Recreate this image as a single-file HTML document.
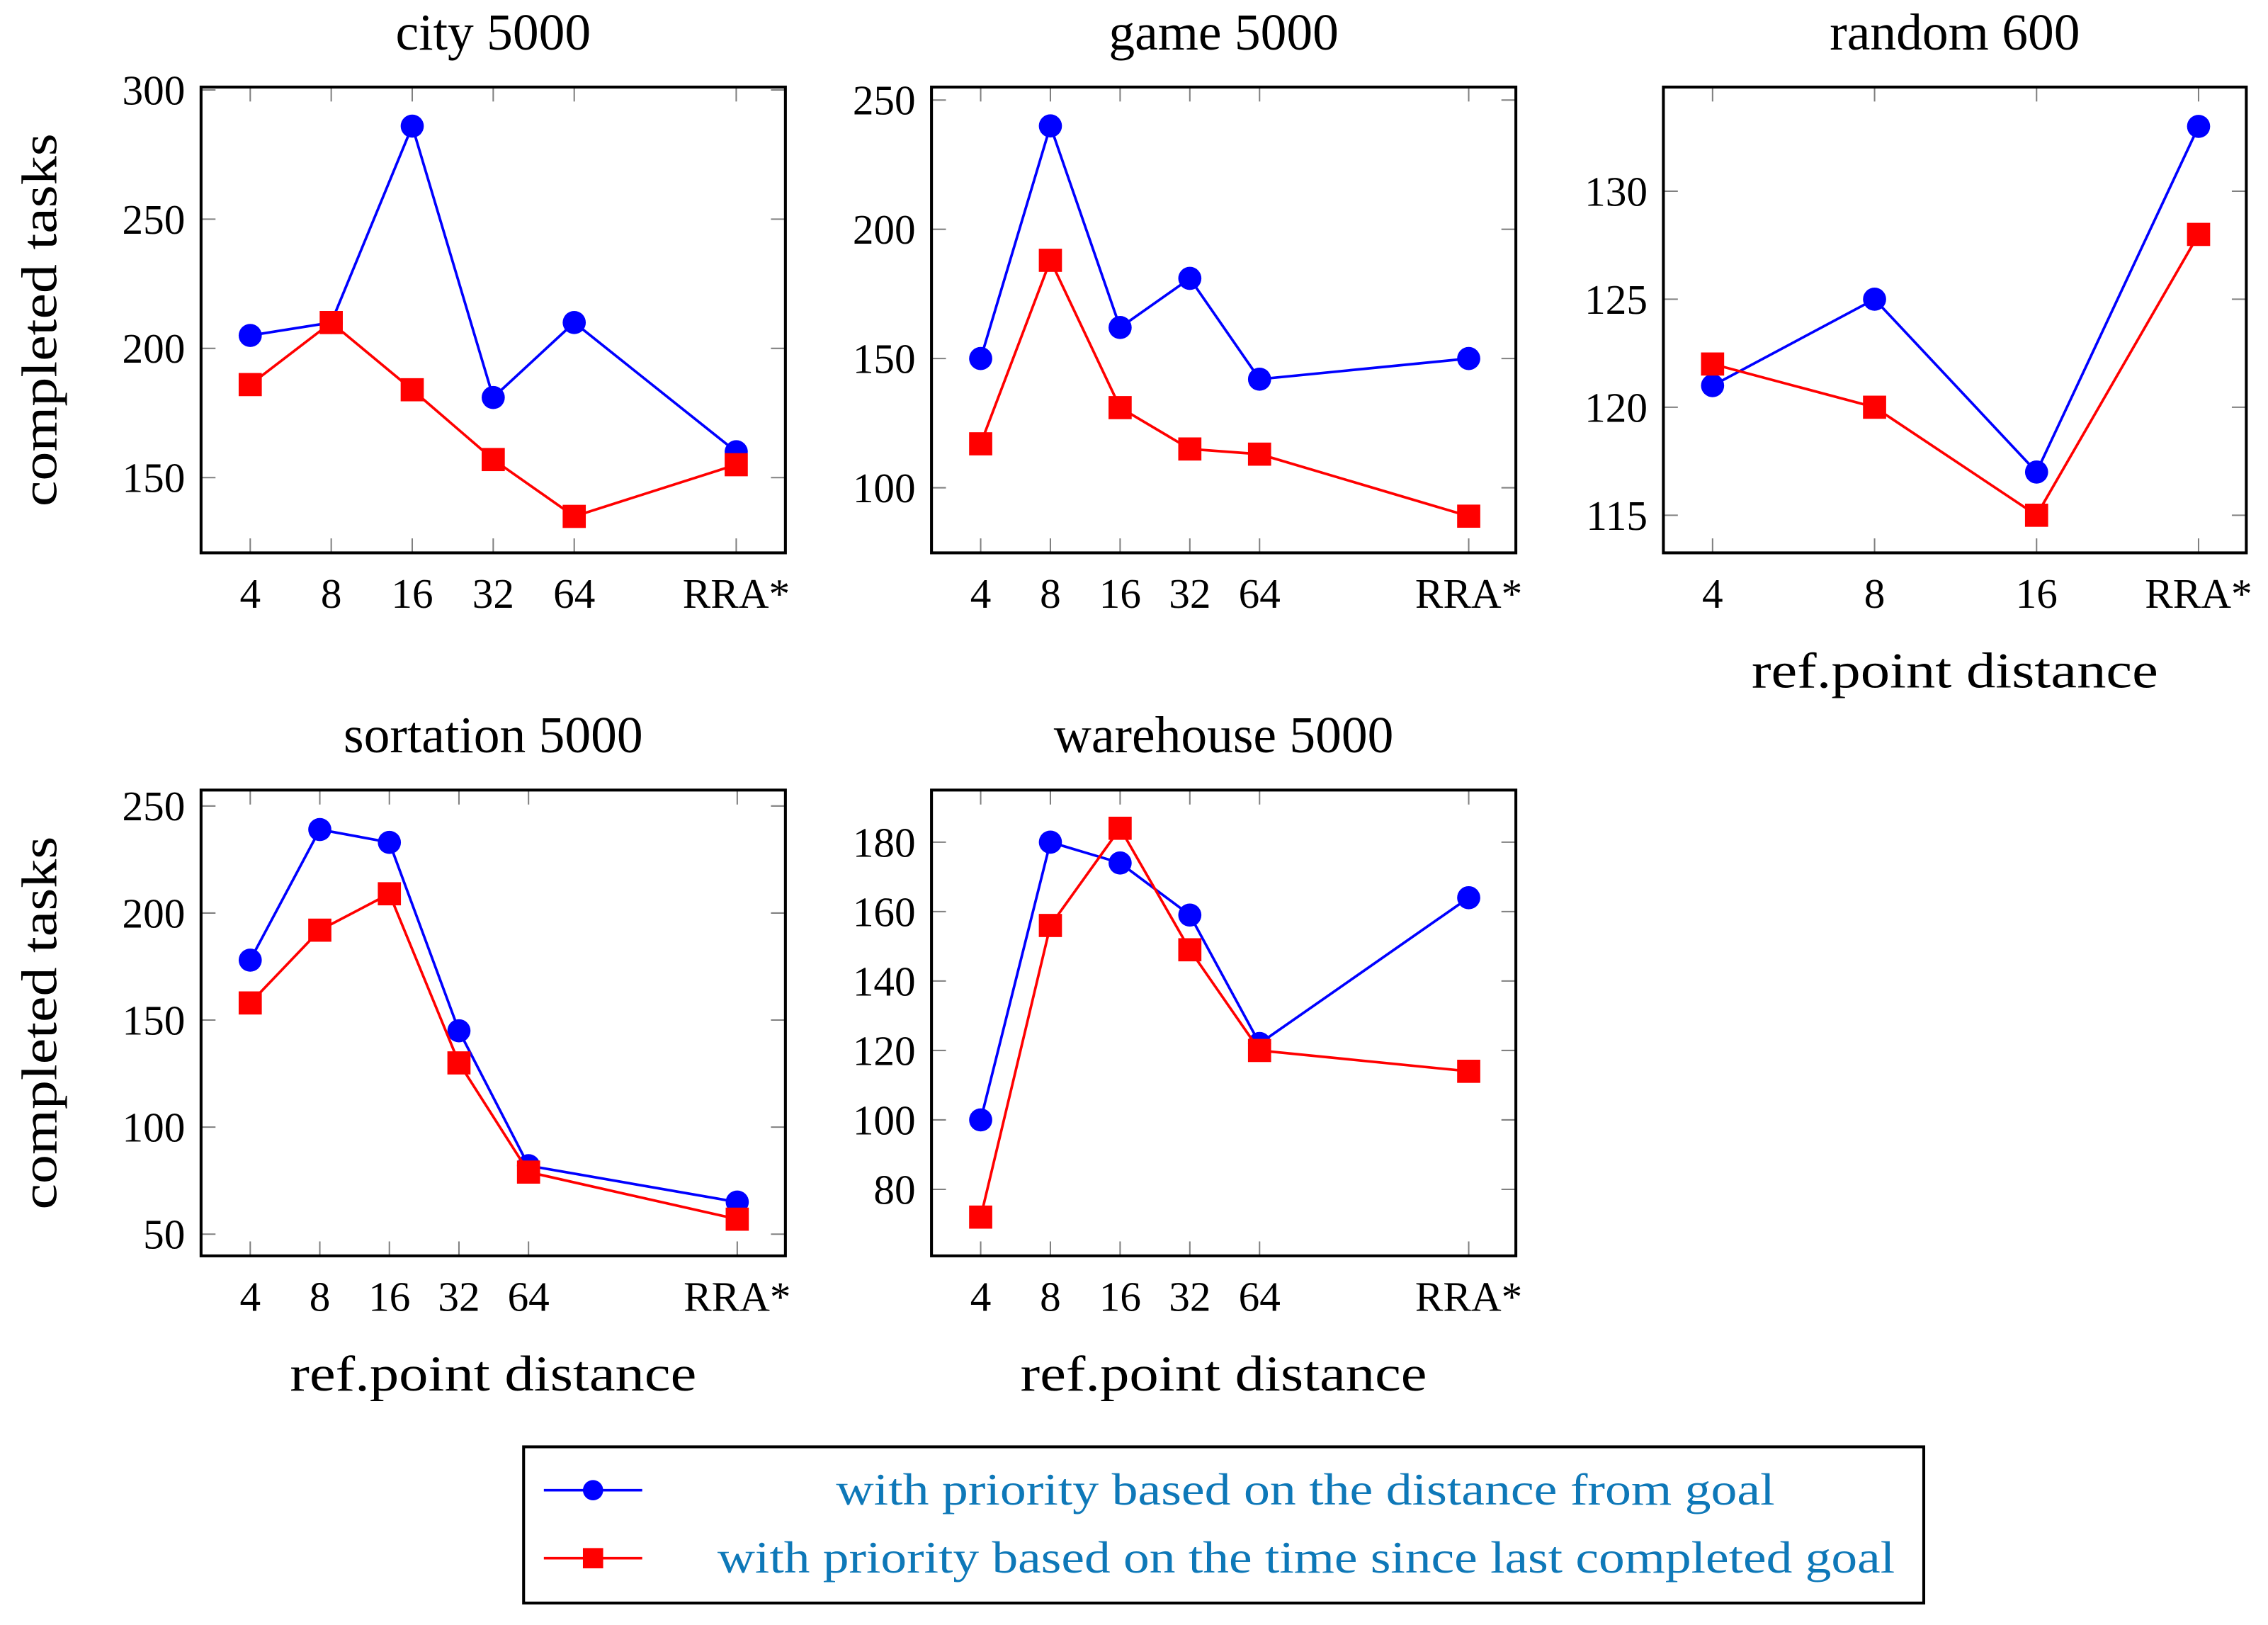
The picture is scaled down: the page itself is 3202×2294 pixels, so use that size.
<!DOCTYPE html>
<html><head><meta charset="utf-8"><style>
html,body{margin:0;padding:0;background:#fff}
svg{display:block}
text{font-family:"Liberation Serif",serif}
</style></head><body>
<svg id="chart" width="3202" height="2294" viewBox="0 0 1568 1123" xmlns="http://www.w3.org/2000/svg">
<rect x="0" y="0" width="1568" height="1123" fill="#fff"/>
<g id="plots"></g>
<g>
  <rect x="362" y="1000" width="968" height="108" fill="#fff" stroke="#000" stroke-width="2"/>
  <g>
    <line x1="376" y1="1030" x2="444" y2="1030" stroke="#00f" stroke-width="1.8"/>
    <circle cx="410" cy="1030" r="7" fill="#00f"/>
    <text x="578" y="1040" font-size="31" fill="#0e78b8" textLength="649" lengthAdjust="spacingAndGlyphs">with priority based on the distance from goal</text>
  </g>
  <g>
    <line x1="376" y1="1077" x2="444" y2="1077" stroke="#f00" stroke-width="1.8"/>
    <rect x="403" y="1070" width="14" height="14" fill="#f00"/>
    <text x="496" y="1087" font-size="31" fill="#0e78b8" textLength="814" lengthAdjust="spacingAndGlyphs">with priority based on the time since last completed goal</text>
  </g>
</g>
</svg>
<script>
// city 5000
const cityCats = ["4","8","16","32","64","RRA*"];
const cityIdx = [0,1,2,3,4,6];
const cityBlue = [205,210,286,181,210,160];
const cityRed = [186,210,184,157,135,155];
const cityTicks = [150,200,250,300];
// game 5000
const gameCats = ["4","8","16","32","64","RRA*"];
const gameIdx = [0,1,2,3,4,7];
const gameBlue = [150,240,162,181,142,150];
const gameRed = [117,188,131,115,113,89];
const gameTicks = [100,150,200,250];
// random 600
const randCats = ["4","8","16","RRA*"];
const randIdx = [0,1,2,3];
const randBlue = [121,125,117,133];
const randRed = [122,120,115,128];
const randTicks = [115,120,125,130];
// sortation 5000
const sortCats = ["4","8","16","32","64","RRA*"];
const sortIdx = [0,1,2,3,4,7];
const sortBlue = [178,239,233,145,82,65];
const sortRed = [158,192,209,130,79,57];
const sortTicks = [50,100,150,200,250];
// warehouse 5000
const wareCats = ["4","8","16","32","64","RRA*"];
const wareIdx = [0,1,2,3,4,7];
const wareBlue = [100,180,174,159,122,164];
const wareRed = [72,156,184,149,120,114];
const wareTicks = [80,100,120,140,160,180];

const NS = "http://www.w3.org/2000/svg";
const root = document.getElementById("plots");
function mk(tag, attrs, parent){
  const e = document.createElementNS(NS, tag);
  for (const k in attrs) e.setAttribute(k, attrs[k]);
  parent.appendChild(e);
  return e;
}
function plot(cfg){
  const g = mk("g", {}, root);
  
  
  const L=cfg.L, R=cfg.R, T=cfg.T, B=cfg.B;
  const xs = i => cfg.x0 + (i - cfg.imin) * cfg.dx;
  const ys = v => cfg.y1 + (v - cfg.v1) * (cfg.y2 - cfg.y1) / (cfg.v2 - cfg.v1);
  cfg.ticks.forEach(t => {
    const y = ys(t);
    mk("line", {x1:L, y1:y, x2:L+10, y2:y, stroke:"#808080", "stroke-width":1}, g);
    mk("line", {x1:R, y1:y, x2:R-10, y2:y, stroke:"#808080", "stroke-width":1}, g);
    const tx = mk("text", {x:L-11, y:y+10, "font-size":29, "text-anchor":"end"}, g);
    tx.textContent = t;
    
    
  });
  cfg.idx.forEach((ix, k) => {
    const x = xs(ix);
    mk("line", {x1:x, y1:B, x2:x, y2:B-10, stroke:"#808080", "stroke-width":1}, g);
    mk("line", {x1:x, y1:T, x2:x, y2:T+10, stroke:"#808080", "stroke-width":1}, g);
    const tx = mk("text", {x:x, y:B+38, "font-size":29, "text-anchor":"middle"}, g);
    tx.textContent = cfg.cats[k];
    
    
  });
  mk("rect", {x:L, y:T, width:R-L, height:B-T, fill:"none", stroke:"#000", "stroke-width":2}, g);
  const ti = mk("text", {x:(L+R)/2, y:T-26, "font-size":36, "text-anchor":"middle"}, g);
  ti.textContent = cfg.title;
  
  
  if (cfg.ylabel){
    const yl = mk("text", {x:0, y:0, "font-size":35, "text-anchor":"middle", textLength:258, lengthAdjust:"spacingAndGlyphs", transform:`translate(39,${(T+B)/2}) rotate(-90)`}, g);
    yl.textContent = "completed tasks";
    
    
  }
  if (cfg.xlabel){
    const xl = mk("text", {x:(L+R)/2, y:B+93, "font-size":35, "text-anchor":"middle", textLength:281, lengthAdjust:"spacingAndGlyphs"}, g);
    xl.textContent = "ref.point distance";
    
    
  }
  [[cfg.blue,"#00f","circle"],[cfg.red,"#f00","square"]].forEach(([vals,col,shape]) => {
    const pts = vals.map((v,k) => xs(cfg.idx[k]) + "," + ys(v)).join(" ");
    const pl = mk("polyline", {points:pts, fill:"none", stroke:col, "stroke-width":1.8}, g);
    
    
    vals.forEach((v,k) => {
      const x = xs(cfg.idx[k]), y = ys(v);
      let m;
      if (shape === "circle") m = mk("circle", {cx:x, cy:y, r:8, fill:col}, g);
      else m = mk("rect", {x:x-8, y:y-8, width:16, height:16, fill:col}, g);
      
      
    });
  });
}
plot({name:"plot-city-5000", title:"city 5000", L:139,R:543,T:60,B:382, x0:173, dx:56, imin:0,
  v1:150, y1:330, v2:300, y2:62, ticks:cityTicks, cats:cityCats, idx:cityIdx, blue:cityBlue, red:cityRed, ylabel:true});
plot({name:"plot-game-5000", title:"game 5000", L:644,R:1048,T:60,B:382, x0:678, dx:48.2, imin:0,
  v1:100, y1:337, v2:250, y2:69, ticks:gameTicks, cats:gameCats, idx:gameIdx, blue:gameBlue, red:gameRed});
plot({name:"plot-random-600", title:"random 600", L:1150,R:1553,T:60,B:382, x0:1184, dx:112, imin:0,
  v1:115, y1:356, v2:130, y2:132, ticks:randTicks, cats:randCats, idx:randIdx, blue:randBlue, red:randRed, xlabel:true});
plot({name:"plot-sortation-5000", title:"sortation 5000", L:139,R:543,T:546,B:868, x0:173, dx:48.1, imin:0,
  v1:50, y1:853, v2:250, y2:557, ticks:sortTicks, cats:sortCats, idx:sortIdx, blue:sortBlue, red:sortRed, ylabel:true, xlabel:true});
plot({name:"plot-warehouse-5000", title:"warehouse 5000", L:644,R:1048,T:546,B:868, x0:678, dx:48.2, imin:0,
  v1:80, y1:822, v2:180, y2:582, ticks:wareTicks, cats:wareCats, idx:wareIdx, blue:wareBlue, red:wareRed, xlabel:true});
</script>
</body></html>
